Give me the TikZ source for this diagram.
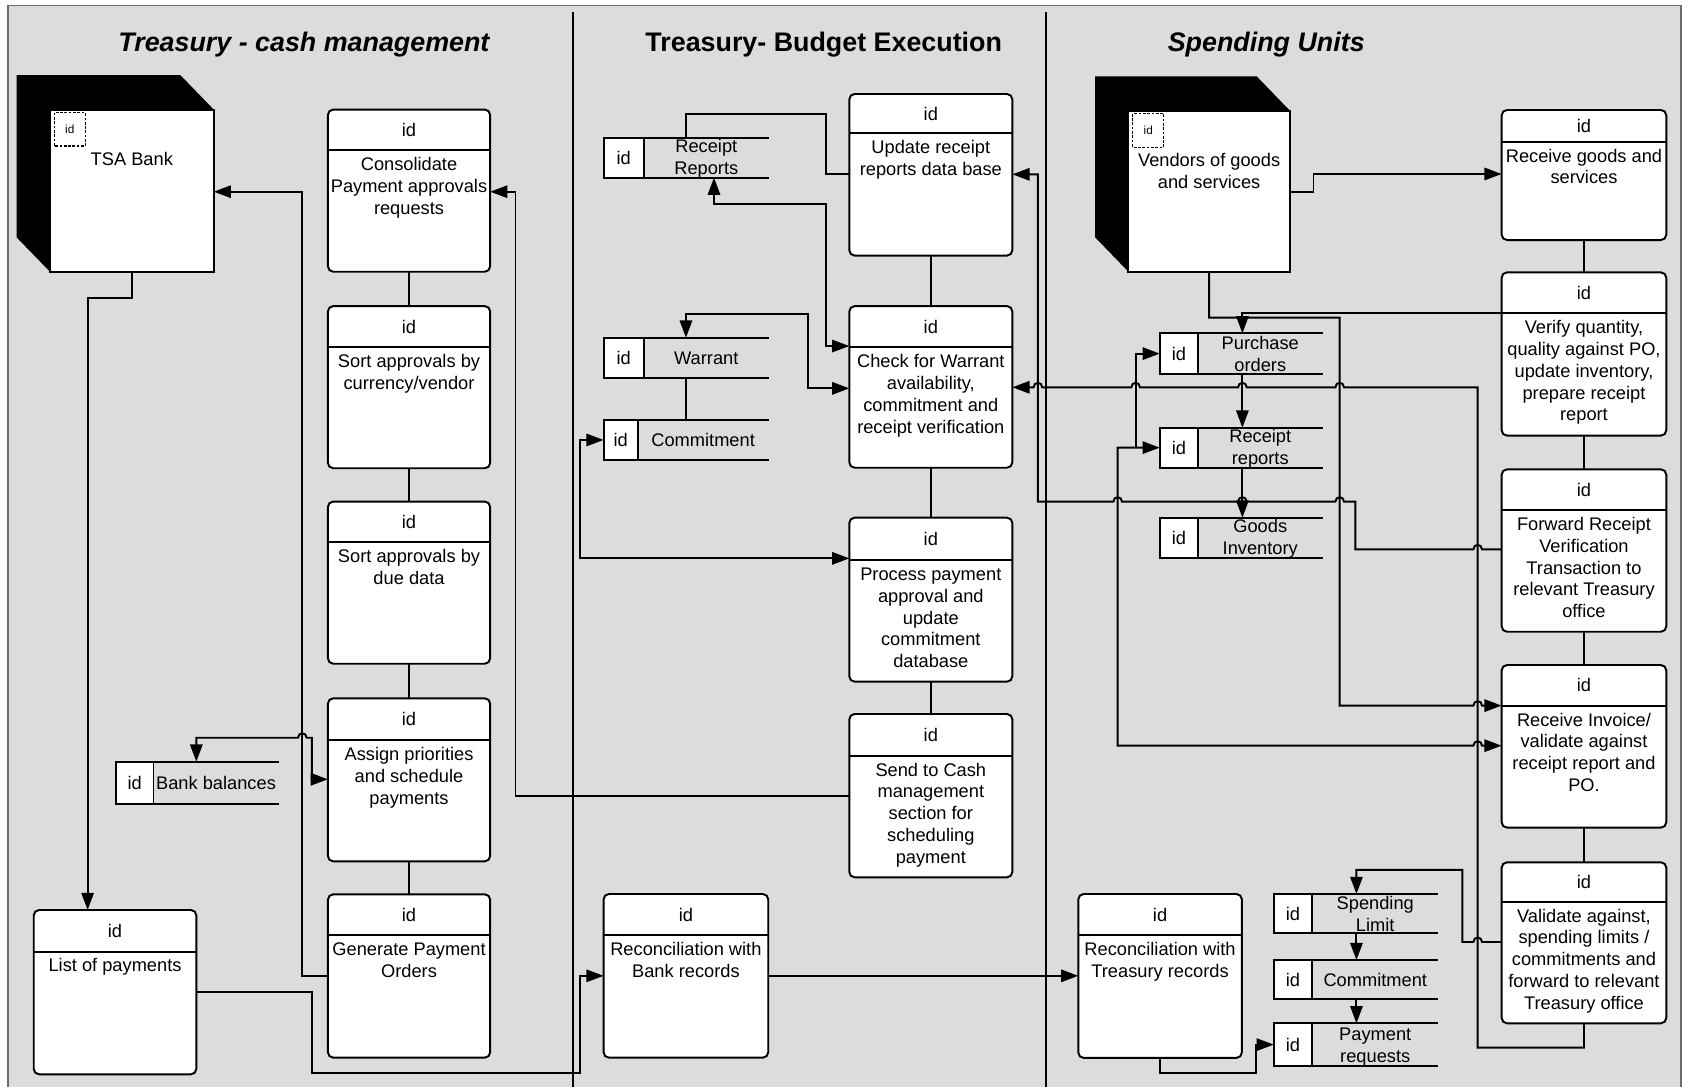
\documentclass[tikz,border=0pt]{standalone}
\usepackage{fontspec}
\setmainfont{Liberation Sans}
\usetikzlibrary{arrows.meta}

\definecolor{lanebg}{RGB}{220,220,220}
\definecolor{framegray}{RGB}{110,110,110}

% line jumps over a crossing vertical line (rightward / leftward)
\newcommand\hopr[2]{-- ({#1-4},#2) .. controls ({#1-4},{#2-5.5}) and ({#1+4},{#2-5.5}) .. ({#1+4},#2)}
\newcommand\hopl[2]{-- ({#1+4},#2) .. controls ({#1+4},{#2-5.5}) and ({#1-4},{#2-5.5}) .. ({#1-4},#2)}

\tikzset{
  every node/.style={inner sep=0pt, outer sep=0pt},
  procshape/.style={draw, fill=white, line width=1.8pt, rounded corners=5pt, rectangle},
  txt/.style={font=\fontsize{17}{20.3}\selectfont, align=center},
  idtxt/.style={font=\fontsize{17}{20.3}\selectfont},
  smallid/.style={font=\fontsize{11}{13}\selectfont},
  lanetitle/.style={font=\fontsize{25}{30}\selectfont\bfseries},
  conn/.style={line width=1.8pt},
  tip/.style={-{Triangle[length=16pt,width=11.5pt]}},
  tips/.style={{Triangle[length=16pt,width=11.5pt]}-{Triangle[length=16pt,width=11.5pt]}},
}

% process: name, left, top, right, bottom, header line y, text
\newcommand\procbox[7]{%
  \pgfmathsetmacro\bw{#4-#2}\pgfmathsetmacro\bh{#5-#3}%
  \pgfmathsetmacro\bx{(#2+#4)/2}\pgfmathsetmacro\by{(#3+#5)/2}%
  \node[procshape, minimum width=\bw pt, minimum height=\bh pt] (#1) at (\bx,\by) {};
  \draw[line width=1.8pt] (#1.west |- 0,#6) -- (#1.east |- 0,#6);
  \pgfmathsetmacro\iy{(#3+#6)/2}%
  \node[idtxt] (#1-id) at (\bx,\iy) {id};
  \pgfmathsetmacro\ty{#6+4.8}%
  \node[txt, anchor=north] (#1-txt) at (\bx,\ty) {\strut #7};
}

% data store: name, left, top, right, bottom, divider x, label top, label
\newcommand\store[8]{%
  \pgfmathsetmacro\bw{#4-#2}\pgfmathsetmacro\bh{#5-#3}%
  \pgfmathsetmacro\bx{(#2+#4)/2}\pgfmathsetmacro\by{(#3+#5)/2}%
  \node[minimum width=\bw pt, minimum height=\bh pt] (#1) at (\bx,\by) {};
  \pgfmathsetmacro\cw{#6-#2}%
  \node[draw, fill=white, line width=1.8pt, minimum width=\cw pt, minimum height=\bh pt,
        anchor=north west, idtxt] (#1-id) at (#1.north west) {id};
  \draw[line width=1.8pt] (#1.north west) -- (#1.north east) (#1.south west) -- (#1.south east);
  \pgfmathsetmacro\lx{(#6+#4)/2}%
  \node[txt, anchor=north] (#1-txt) at (\lx,#7) {\strut #8};
}

% external entity drawn as a block: name, left, top, right, bottom, text
\newcommand\entity[6]{%
  \fill ({#2-31},{#3-32}) -- ({#4-31},{#3-32}) -- (#4,#3) -- (#4,#5) -- (#2,#5) -- ({#2-31},{#5-32}) -- cycle;
  \pgfmathsetmacro\bw{#4-#2}\pgfmathsetmacro\bh{#5-#3}%
  \pgfmathsetmacro\bx{(#2+#4)/2}\pgfmathsetmacro\by{(#3+#5)/2}%
  \node[draw, fill=white, line width=1.8pt, minimum width=\bw pt, minimum height=\bh pt] (#1) at (\bx,\by) {};
  \draw[line width=1.1pt, dash pattern=on 2.5pt off 1.5pt] ({#2+4},{#3+3}) rectangle ({#2+33},{#3+34});
  \node[smallid] (#1-id) at ({#2+18.5},{#3+18.5}) {id};
  \node[txt, anchor=north] (#1-txt) at (\bx,{#3+38.1}) {\strut #6};
}

\begin{document}
\begin{tikzpicture}[x=1pt, y=-1pt]
\useasboundingbox (0,0) rectangle (1568,1012);

% swimlane frame
\fill[lanebg] (7.6,5.1) rectangle (1565,1013);
\draw[framegray, line width=1.5pt] (7.6,1014) -- (7.6,5.1) -- (1565,5.1) -- (1565,1014);
\draw[line width=1.6pt] (533.3,11) -- (533.3,1014);
\draw[line width=1.6pt] (973.6,11) -- (973.6,1014);

\node[lanetitle, font=\fontsize{25}{30}\selectfont\bfseries\itshape, anchor=base] (lane1) at (283,48) {Treasury - cash management};
\node[lanetitle, anchor=base] (lane2) at (767,48) {Treasury- Budget Execution};
\node[lanetitle, font=\fontsize{25}{30}\selectfont\bfseries\itshape, anchor=base] (lane3) at (1179,48) {Spending Units};

% ---- cash management ----
\entity{tsa}{46.5}{102}{199}{253}{TSA Bank}
\procbox{p1}{305.3}{102}{456.4}{253}{140}{Consolidate\\Payment approvals\\requests}
\procbox{p2}{305.3}{285}{456.4}{436}{323}{Sort approvals by\\currency/vendor}
\procbox{p3}{305.3}{467}{456.4}{618}{505}{Sort approvals by\\due data}
\procbox{p4}{305.3}{650.2}{456.4}{802}{689}{Assign priorities\\and schedule\\payments}
\procbox{p5}{305.3}{832.7}{456.4}{984.8}{871}{Generate Payment\\Orders}
\procbox{p6}{31.4}{847.3}{182.8}{1000.3}{886}{List of payments}
\store{d4}{108}{709.2}{259.4}{748.6}{142.9}{720.7}{Bank balances}

% ---- budget execution ----
\procbox{p7}{790.8}{87.5}{942.6}{238}{124.1}{Update receipt\\reports data base}
\procbox{p8}{790.8}{285}{942.6}{435.5}{323.4}{Check for Warrant\\availability,\\commitment and\\receipt verification}
\procbox{p9}{790.8}{482}{942.6}{634.7}{521.4}{Process payment\\approval and\\update\\commitment\\database}
\procbox{p10}{790.8}{664.8}{942.6}{816.9}{703.6}{Send to Cash\\management\\section for\\scheduling\\payment}
\procbox{p11}{562}{832.4}{715.3}{984.8}{870.6}{Reconciliation with\\Bank records}
\store{d1}{562}{128.2}{715.7}{165.4}{599.6}{128.0}{Receipt\\Reports}
\store{d2}{562}{314.4}{715.7}{351.6}{599.6}{324.8}{Warrant}
\store{d3}{562}{391}{715.7}{428.3}{593.7}{401.5}{Commitment}

% ---- spending units ----
\entity{vend}{1050.7}{103}{1201}{253}{Vendors of goods\\and services}
\procbox{p12}{1004}{832.4}{1156.3}{985}{870.6}{Reconciliation with\\Treasury records}
\procbox{p13}{1398.2}{102.4}{1551.5}{223.5}{131.9}{Receive goods and\\services}
\procbox{p14}{1398.2}{253.6}{1551.5}{405.6}{291.7}{Verify quantity,\\quality against PO,\\update inventory,\\prepare receipt\\report}
\procbox{p15}{1398.2}{437}{1551.5}{588.2}{474.9}{Forward Receipt\\Verification\\Transaction to\\relevant Treasury\\office}
\procbox{p16}{1398.2}{619.2}{1551.5}{770.6}{657}{Receive Invoice/\\validate against\\receipt report and\\PO.}
\procbox{p17}{1398.2}{802.9}{1551.5}{952.8}{839.5}{Validate against,\\spending limits /\\commitments and\\forward to relevant\\Treasury office}
\store{d5}{1079.9}{310.3}{1231.5}{348.2}{1115.4}{311.5}{Purchase\\orders}
\store{d6}{1079.9}{398.2}{1231.5}{435.4}{1115.4}{397.8}{Receipt\\reports}
\store{d7}{1079.9}{482}{1231.5}{519.2}{1115.4}{481.6}{Goods\\Inventory}
\store{d8}{1186}{832.4}{1339.1}{869}{1221.9}{832.8}{Spending\\Limit}
\store{d9}{1186}{893.9}{1339.1}{930.5}{1221.9}{904}{Commitment}
\store{d10}{1186}{952.8}{1339.1}{992.5}{1221.9}{954.6}{Payment\\requests}

% ---- sequence ties ----
\draw[conn] (p1.south) -- (p2.north);
\draw[conn] (p2.south) -- (p3.north);
\draw[conn] (p3.south) -- (p4.north);
\draw[conn] (p4.south) -- (p5.north);
\draw[conn] (p7.south) -- (p8.north);
\draw[conn] (p8.south) -- (p9.north);
\draw[conn] (p9.south) -- (p10.north);
\draw[conn] (p13.south) -- (p14.north);
\draw[conn] (p14.south) -- (p15.north);
\draw[conn] (p15.south) -- (p16.north);
\draw[conn] (p16.south) -- (p17.north);

% ---- flows in cash management ----
\draw[conn,tip] (tsa.south) -- (tsa.south |- 0,277.6) -- (81.6,277.6) -- (81.6,0 |- p6.north);
\draw[conn,tip] (p5.west |- 0,908.4) -- (281.5,908.4) -- (281.5,178.5) -- (tsa.east |- 0,178.5);
\draw[conn,tip] (p10.west |- 0,740.8) -- (480,740.8) -- (480,178.5) -- (p1.east |- 0,178.5);
\draw[conn,tips] (182.8,0 |- d4.north) -- (182.8,686.9) \hopr{281.5}{686.9} -- (290.4,686.9) -- (290.4,725.6) -- (p4.west |- 0,725.6);
\draw[conn,tip] (p6.east |- 0,923.3) -- (290.4,923.3) -- (290.4,999.4) -- (539.8,999.4) -- (539.8,908.6) -- (p11.west |- 0,908.6);

% ---- flows in budget execution ----
\draw[conn] (p7.west |- 0,162.3) -- (768.8,162.3) -- (768.8,106.1) -- (638.7,106.1) -- (638.7,0 |- d1.north);
\draw[conn,tips] (664.8,0 |- d1.south) -- (664.8,190) -- (768.8,190) -- (768.8,322.2) -- (p8.west |- 0,322.2);
\draw[conn,tips] (638.7,0 |- d2.north) -- (638.7,292.4) -- (752,292.4) -- (752,361.6) -- (p8.west |- 0,361.6);
\draw[conn] (638.7,0 |- d2.south) -- (638.7,0 |- d3.north);
\draw[conn,tips] (d3.west) -- (540,0 |- d3.west) -- (540,519.9) -- (p9.west |- 0,519.9);
\draw[conn,tip] (p11.east |- 0,908.6) -- (p12.west |- 0,908.6);

% ---- flows in spending units ----
\draw[conn,tip] (p12.south) -- (p12.south |- 0,999.4) -- (1169.5,999.4) -- (1169.5,0 |- d10.west) -- (d10.west);
\draw[conn,tip] (vend.east |- 0,178.5) -- (1223,178.5) -- (1223,162) -- (p13.west |- 0,162);
\draw[conn,tip] (vend.south) -- (vend.south |- 0,295.8) -- (1247.4,295.8) -- (1247.4,657) \hopr{1375.9}{657} -- (p16.west |- 0,657);
\draw[conn,tip] (p14.west |- 0,291.7) -- (1156.8,291.7) -- (1156.8,0 |- d5.north);
\draw[conn,tip] (1156.8,0 |- d5.south) -- (1156.8,0 |- d6.north);
\draw[conn,tip] (1156.8,0 |- d6.south) -- (1156.8,0 |- d7.north);
\draw[conn,tip] (p17.south) -- (p17.south |- 0,975.5) -- (1375.9,975.5) -- (1375.9,360.6)
  \hopl{1247.4}{360.6} \hopl{1156.8}{360.6} \hopl{1057.4}{360.6} \hopl{966.4}{360.6} -- (p8.east |- 0,360.6);
\draw[conn,tip] (p17.west |- 0,877.1) \hopl{1375.9}{877.1} -- (1361.6,877.1) -- (1361.6,810) -- (1263,810) -- (1263,0 |- d8.north);
\draw[conn,tip] (1263,0 |- d8.south) -- (1263,0 |- d9.north);
\draw[conn,tip] (1263,0 |- d9.south) -- (1263,0 |- d10.north);
\draw[conn,tip] (p15.west |- 0,511.5) \hopl{1375.9}{511.5} -- (1262,511.5) -- (1262,467.1)
  \hopl{1247.4}{467.1} \hopl{1156.8}{467.1} \hopl{1040.7}{467.1} -- (966.4,467.1) -- (966.4,162.3) -- (p7.east |- 0,162.3);
\draw[conn,tips] (p16.west |- 0,694.3) \hopl{1375.9}{694.3} -- (1040.7,694.3) -- (1040.7,0 |- d6.west) -- (d6.west);
\draw[conn,tip] (1057.4,0 |- d6.west) -- (1057.4,0 |- d5.west) -- (d5.west);
\end{tikzpicture}
\end{document}
